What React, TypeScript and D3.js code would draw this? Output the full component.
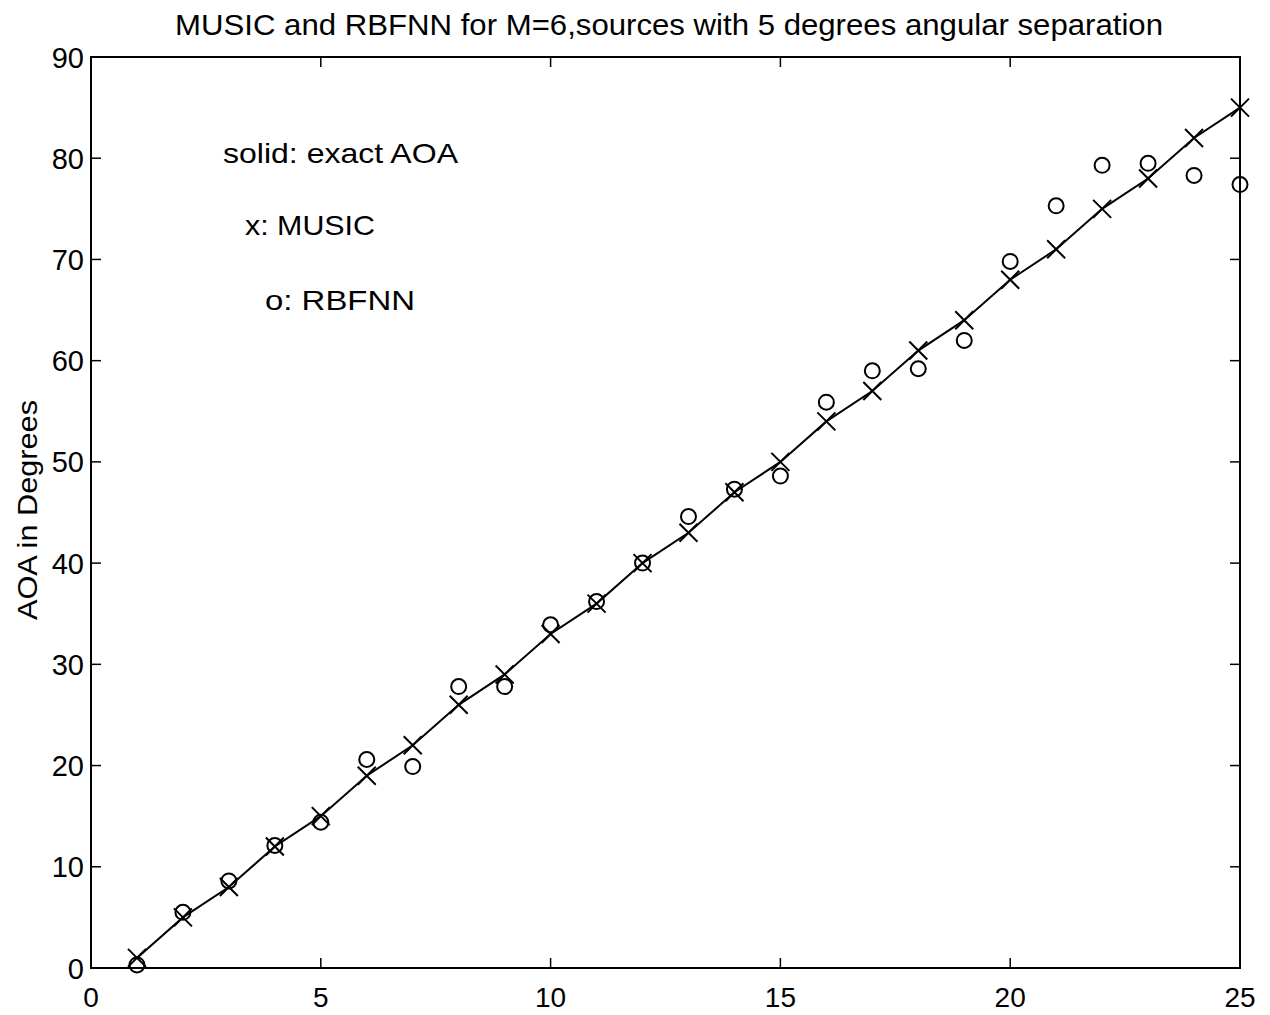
import React from "react";
import * as d3 from "d3";

const xs = [1,2,3,4,5,6,7,8,9,10,11,12,13,14,15,16,17,18,19,20,21,22,23,24,25];
const exactAOA = [1,5,8,12,15,19,22,26,29,33,36,40,43,47,50,54,57,61,64,68,71,75,78,82,85];
const music = [1,5,8,12,15,19,22,26,29,33,36,40,43,47,50,54,57,61,64,68,71,75,78,82,85];
const rbfnn = [0.3,5.5,8.6,12.1,14.4,20.6,19.9,27.8,27.8,33.9,36.2,40,44.6,47.3,48.6,55.9,59.0,59.2,62.0,69.8,75.3,79.3,79.5,78.3,77.4];
const xTicks = [0,5,10,15,20,25];
const yTicks = [0,10,20,30,40,50,60,70,80,90];
const title = "MUSIC and RBFNN for M=6,sources with 5 degrees angular separation";
const yLabel = "AOA in Degrees";
const notes = ["solid: exact AOA", "x: MUSIC", "o: RBFNN"];

export default function App() {
  const W = 1270, H = 1015;
  const L = 91, R = 1240, T = 57, B = 968;
  const x = d3.scaleLinear().domain([0, 25]).range([L, R]);
  const y = d3.scaleLinear().domain([0, 90]).range([B, T]);
  const line = d3.line<number>().x((_, i) => x(xs[i])).y((d) => y(d));
  const font = "'Liberation Sans', Arial, Helvetica, sans-serif";
  const tl = 10;
  const xm = 9;
  const noteX = [223, 245, 265];
  const noteY = [163, 235, 310];
  const noteW = [235, 130, 150];
  return (
    <svg width={W} height={H} style={{ position: "absolute", left: 0, top: 0 }} fontFamily={font}>
      <rect x={0} y={0} width={W} height={H} fill="#fff" />
      <text x={175} y={35} fontSize={29} textLength={988} lengthAdjust="spacingAndGlyphs" fill="#000">{title}</text>
      <rect x={L} y={T} width={R - L} height={B - T} fill="none" stroke="#000" strokeWidth={2} />
      {xTicks.map((t) => (
        <g key={"x" + t}>
          <line x1={x(t)} x2={x(t)} y1={B} y2={B - tl} stroke="#000" strokeWidth={1.5} />
          <line x1={x(t)} x2={x(t)} y1={T} y2={T + tl} stroke="#000" strokeWidth={1.5} />
          <text x={x(t)} y={1007} textAnchor="middle" fontSize={28} fill="#000">{t}</text>
        </g>
      ))}
      {yTicks.map((t) => (
        <g key={"y" + t}>
          <line x1={L} x2={L + tl} y1={y(t)} y2={y(t)} stroke="#000" strokeWidth={1.5} />
          <line x1={R} x2={R - tl} y1={y(t)} y2={y(t)} stroke="#000" strokeWidth={1.5} />
          <text x={84} y={y(t) + 10.5} textAnchor="end" fontSize={29} fill="#000">{t}</text>
        </g>
      ))}
      <text transform={`translate(37,510) rotate(-90)`} textAnchor="middle" fontSize={27} textLength={220} lengthAdjust="spacingAndGlyphs" fill="#000">{yLabel}</text>
      {notes.map((n, i) => (
        <text key={n} x={noteX[i]} y={noteY[i]} fontSize={28} textLength={noteW[i]} lengthAdjust="spacingAndGlyphs" fill="#000">{n}</text>
      ))}
      <path d={line(exactAOA) || ""} fill="none" stroke="#000" strokeWidth={2} />
      {music.map((v, i) => (
        <path key={"m" + i} d={`M${x(xs[i]) - xm},${y(v) - xm}L${x(xs[i]) + xm},${y(v) + xm}M${x(xs[i]) - xm},${y(v) + xm}L${x(xs[i]) + xm},${y(v) - xm}`} stroke="#000" strokeWidth={2} fill="none" />
      ))}
      {rbfnn.map((v, i) => (
        <circle key={"r" + i} cx={x(xs[i])} cy={y(v)} r={7.5} fill="none" stroke="#000" strokeWidth={2} />
      ))}
    </svg>
  );
}
